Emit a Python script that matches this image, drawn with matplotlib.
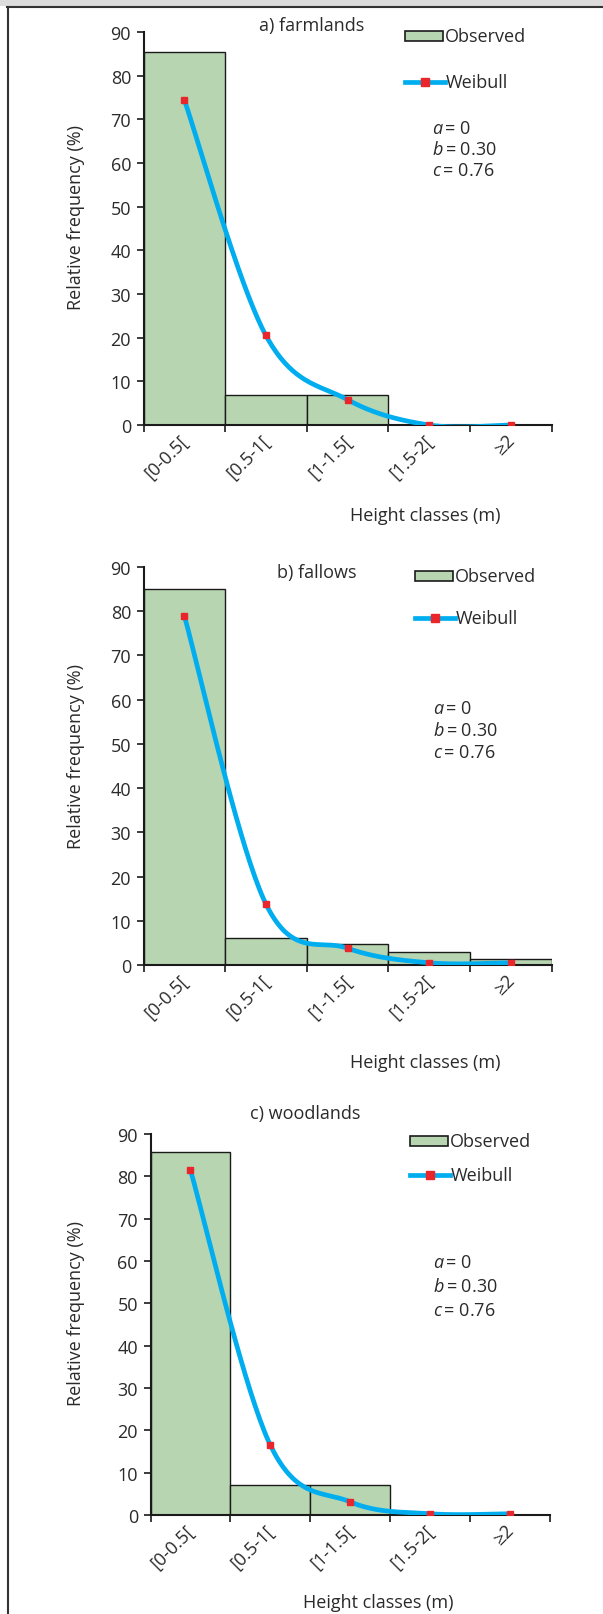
import numpy as np
import matplotlib
matplotlib.use("Agg")
import matplotlib.pyplot as plt
import matplotlib.transforms as mtransforms
from matplotlib.patches import Rectangle
from matplotlib.lines import Line2D

plt.rcParams['font.family'] = ['Open Sans', 'DejaVu Sans']
plt.rcParams['mathtext.fontset'] = 'custom'
plt.rcParams['mathtext.rm'] = 'Open Sans'
plt.rcParams['mathtext.it'] = 'Open Sans:italic'

# ---------------- data ----------------
categories = ["[0-0.5[", "[0.5-1[", "[1-1.5[", "[1.5-2[", "\u22652"]
panel_titles = ["a) farmlands", "b) fallows", "c) woodlands"]
observed_a = [85.5, 6.8, 6.8, 0.0, 0.0]
weibull_a = [74.5, 20.5, 5.8, 0.0, 0.0]
observed_b = [85.0, 6.1, 4.7, 2.9, 1.4]
weibull_b = [79.0, 13.8, 3.8, 0.5, 0.5]
observed_c = [85.7, 7.1, 7.1, 0.0, 0.0]
weibull_c = [81.5, 16.5, 3.1, 0.3, 0.3]
params = [("a", "0"), ("b", "0.30"), ("c", "0.76")]
yticks = [0, 10, 20, 30, 40, 50, 60, 70, 80, 90]

W, H = 603, 1615
fig = plt.figure(figsize=(W / 100, H / 100), dpi=100)

def fx(x):
    return x / W

def fy(y):
    return 1 - y / H

BAR_COLOR = "#b8d5b1"
LINE_COLOR = "#00aeef"
MARK_COLOR = "#e8262b"
TXT = "#2a2a2a"
FS = 13


def excel_smooth(xs, ys, n=40):
    xs = np.asarray(xs, float)
    ys = np.asarray(ys, float)
    P = np.column_stack([xs, ys])
    Pe = np.vstack([P[0], P, P[-1]])
    out = []
    for i in range(len(P) - 1):
        p0, p1, p2, p3 = Pe[i], Pe[i + 1], Pe[i + 2], Pe[i + 3]
        c1 = p1 + (p2 - p0) / 6.0
        c2 = p2 - (p3 - p1) / 6.0
        t = np.linspace(0, 1, n)[:, None]
        seg = ((1 - t) ** 3) * p1 + 3 * ((1 - t) ** 2) * t * c1 + 3 * (1 - t) * t ** 2 * c2 + t ** 3 * p2
        out.append(seg if i == 0 else seg[1:])
    out = np.vstack(out)
    return out[:, 0], out[:, 1]


# layout per panel (pixel coords in full image)
panels = [
    dict(obs=observed_a, wb=weibull_a, left=143.5, right=551.5, top=33, bottom=426,
         title=(312, 26), leg_x=405, leg_obs_y=37, leg_wb_y=83, par_x=432, par_y=[129, 150, 171],
         xlab=(425, 516), ylab_y=217),
    dict(obs=observed_b, wb=weibull_b, left=143.5, right=551.5, top=568, bottom=966,
         title=(317, 573), leg_x=415, leg_obs_y=577, leg_wb_y=619, par_x=433, par_y=[709, 731, 753],
         xlab=(425, 1063), ylab_y=757),
    dict(obs=observed_c, wb=weibull_c, left=150.5, right=550, top=1135, bottom=1516,
         title=(305, 1114), leg_x=410, leg_obs_y=1142, leg_wb_y=1176, par_x=433, par_y=[1263, 1287, 1311],
         xlab=(378, 1603), ylab_y=1313),
]

shift = mtransforms.ScaledTranslation(-5 / 100, -6 / 100, fig.dpi_scale_trans)

x = np.arange(len(categories))
for k, p in enumerate(panels):
    ax = fig.add_axes([fx(p["left"]), fy(p["bottom"]), (p["right"] - p["left"]) / W,
                       (p["bottom"] - p["top"]) / H])
    ax.bar(x, p["obs"], width=1.0, color=BAR_COLOR, edgecolor="#1a1a1a", linewidth=1.0, zorder=2)
    sx, sy = excel_smooth(x, p["wb"])
    ax.plot(sx, sy, color=LINE_COLOR, lw=3.4, solid_capstyle="round", zorder=3)
    ax.plot(x, p["wb"], ls="none", marker="s", ms=5, color=MARK_COLOR, zorder=4)
    ax.set_xlim(-0.5, len(categories) - 0.5)
    ax.set_ylim(0, 90)
    ax.set_yticks(yticks)
    ax.set_xticks(np.arange(len(categories) + 1) - 0.5)
    ax.set_xticklabels([])
    # category labels, rotated, anchored at their upper-right corner near each class centre
    tr = ax.get_xaxis_transform() + shift
    for xi, cat in zip(x, categories):
        ax.text(xi, 0, cat, transform=tr, rotation=45, ha="right", va="top",
                rotation_mode="anchor", fontsize=FS, color=TXT, clip_on=False)
    ax.tick_params(axis="x", which="major", length=5, width=1.2, color="#1a1a1a")
    ax.tick_params(axis="y", length=5, width=1.2, color="#1a1a1a", labelsize=FS, labelcolor=TXT, pad=4)
    for s in ["top", "right"]:
        ax.spines[s].set_visible(False)
    for s in ["left", "bottom"]:
        ax.spines[s].set_linewidth(1.5)
        ax.spines[s].set_color("#1a1a1a")

    fig.text(fx(76), fy(p["ylab_y"]), "Relative frequency (%)", rotation=90, ha="center", va="center",
             fontsize=FS, color=TXT)
    fig.text(fx(p["title"][0]), fy(p["title"][1]), panel_titles[k], ha="center", va="center",
             fontsize=FS, color=TXT)
    fig.text(fx(p["xlab"][0]), fy(p["xlab"][1]), "Height classes (m)", ha="center", va="center",
             fontsize=FS, color=TXT)

    # legend
    lx = p["leg_x"]
    fig.add_artist(Rectangle((fx(lx), fy(p["leg_obs_y"] + 5)), 38 / W, 10 / H, transform=fig.transFigure,
                             facecolor=BAR_COLOR, edgecolor="#1a1a1a", lw=1.2))
    fig.text(fx(lx + 40), fy(p["leg_obs_y"]), "Observed", ha="left", va="center", fontsize=FS, color=TXT)
    fig.add_artist(Line2D([fx(lx), fx(lx + 40)], [fy(p["leg_wb_y"])] * 2, transform=fig.transFigure,
                          color=LINE_COLOR, lw=3.4))
    fig.add_artist(Line2D([fx(lx + 20)], [fy(p["leg_wb_y"])], transform=fig.transFigure,
                          marker="s", ms=6, color=MARK_COLOR, ls="none"))
    fig.text(fx(lx + 41), fy(p["leg_wb_y"]), "Weibull", ha="left", va="center", fontsize=FS, color=TXT)

    for (sym, val), yy in zip(params, p["par_y"]):
        fig.text(fx(p["par_x"]), fy(yy), "$" + sym + r"\,$" + "= " + val, ha="left", va="center",
                 fontsize=FS, color=TXT)

# outer frame
fig.add_artist(Rectangle((0, fy(7)), 1, 7 / H, transform=fig.transFigure, facecolor="#dcdcdc",
                         edgecolor="none"))
fig.add_artist(Line2D([fx(7), 1], [fy(7.5), fy(7.5)], transform=fig.transFigure, color="#333333", lw=1.5))
fig.add_artist(Line2D([fx(7.5), fx(7.5)], [fy(7.5), 0], transform=fig.transFigure, color="#333333", lw=1.5))

fig.savefig("out.png", dpi=100, facecolor="white")
